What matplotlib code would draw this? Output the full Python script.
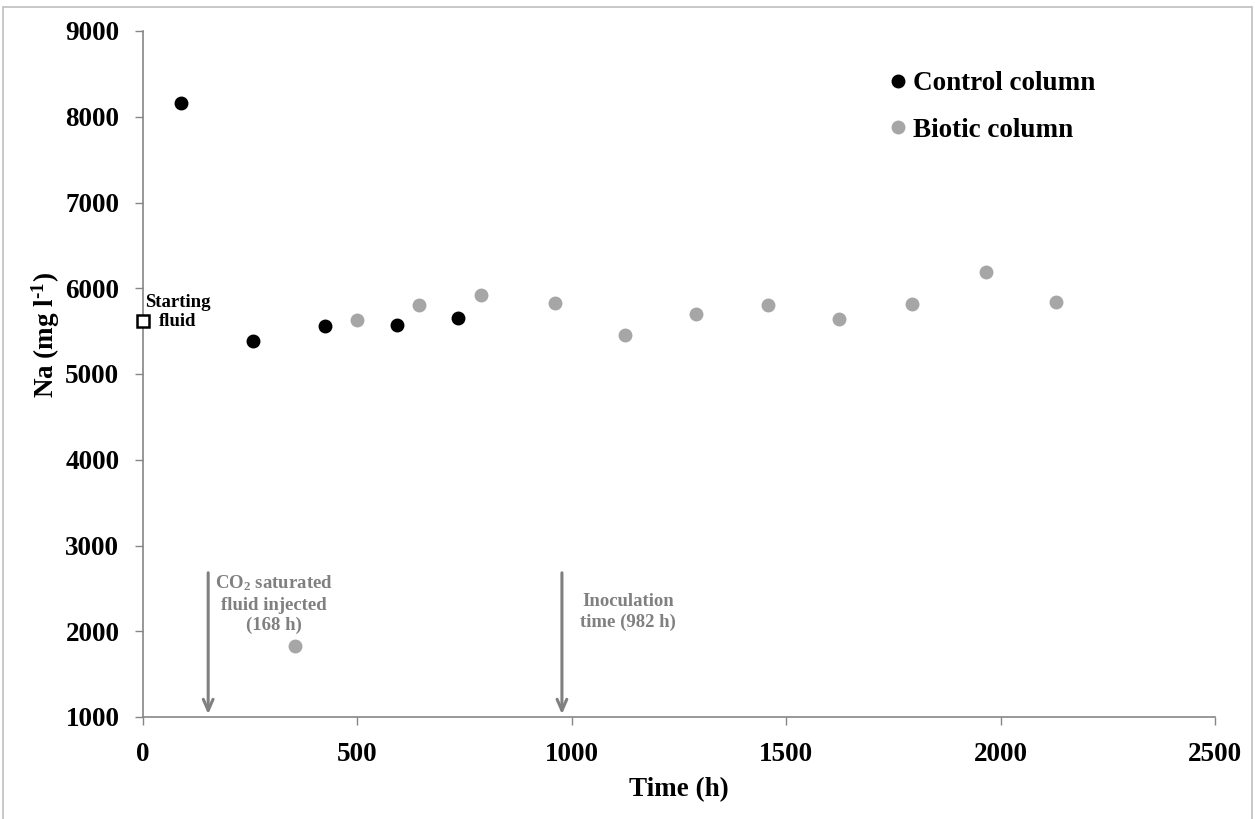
import matplotlib
matplotlib.use("Agg")
import matplotlib.pyplot as plt
from matplotlib.patches import Rectangle

plt.rcParams['font.family'] = ['Liberation Serif', 'DejaVu Serif']
plt.rcParams['font.weight'] = 'bold'
plt.rcParams['mathtext.fontset'] = 'custom'
plt.rcParams['mathtext.rm'] = 'Liberation Serif:bold'
plt.rcParams['mathtext.bf'] = 'Liberation Serif:bold'
plt.rcParams['mathtext.it'] = 'Liberation Serif:bold'

# Data
control_t = [88, 256, 424, 592, 735]
control_na = [8160, 5385, 5560, 5575, 5655]
biotic_t = [355, 499, 644, 788, 961, 1124, 1290, 1457, 1623, 1793, 1966, 2129]
biotic_na = [1830, 5630, 5805, 5920, 5828, 5455, 5700, 5805, 5641, 5816, 6195, 5840]
start_t = [0]
start_na = [5618]
events_t = [152, 977]
events_top = [2714, 2714]

GRAY_AX = '#868686'
GRAY_PT = '#A6A6A6'
GRAY_TXT = '#808080'

fig = plt.figure(figsize=(12.55, 8.19), dpi=100)
ax = fig.add_axes([143/1255, 1 - 717/819, (1215-143)/1255, (717-31)/819])

ax.plot(control_t, control_na, 'o', color='black', markersize=9, label='Control column', clip_on=False, zorder=3)
ax.plot(biotic_t, biotic_na, 'o', color=GRAY_PT, markersize=9, label='Biotic column', clip_on=False, zorder=3)
ax.plot(start_t, start_na, 's', markerfacecolor='white', markeredgecolor='black', markeredgewidth=1.8,
        markersize=8.5, clip_on=False, zorder=4)

for t, top in zip(events_t, events_top):
    ax.annotate('', xy=(t, 1000), xytext=(t, top),
                arrowprops=dict(arrowstyle='->,head_length=0.8,head_width=0.35', color=GRAY_TXT, lw=2.2),
                annotation_clip=False, zorder=2)

ax.text(305, 2318, 'CO$_2$ saturated\nfluid injected\n(168 h)', ha='center', va='center',
        fontsize=13.5, fontweight='bold', color=GRAY_TXT, linespacing=1.25)
ax.text(1131, 2224, 'Inoculation\ntime (982 h)', ha='center', va='center',
        fontsize=13.5, fontweight='bold', color=GRAY_TXT, linespacing=1.25)
ax.text(82, 5723, 'Starting\nfluid', ha='center', va='center',
        fontsize=13.5, fontweight='bold', color='black', linespacing=1.15)

ax.set_xlim(0, 2500)
ax.set_ylim(1000, 9000)
ax.set_xticks([0, 500, 1000, 1500, 2000, 2500])
ax.set_yticks([1000, 2000, 3000, 4000, 5000, 6000, 7000, 8000, 9000])
ax.tick_params(axis='both', direction='out', length=6, width=1, color=GRAY_AX, labelsize=19.5)
ax.tick_params(axis='y', pad=11)
ax.tick_params(axis='x', pad=12)
for lab in ax.get_xticklabels() + ax.get_yticklabels():
    lab.set_fontweight('bold')

for s in ['top', 'right']:
    ax.spines[s].set_visible(False)
for s in ['left', 'bottom']:
    ax.spines[s].set_color(GRAY_AX)
    ax.spines[s].set_linewidth(1.2)

ax.set_xlabel('Time (h)', fontsize=19.5, fontweight='bold', labelpad=7)
fig.text(46/1255, 1 - 335/819, 'Na (mg l$^{\u2010 1}$)', rotation=90, ha='center', va='center',
         fontsize=19.5, fontweight='bold')

leg = ax.legend(loc='upper left', bbox_to_anchor=((890-143)/1072, 1 - (71-31)/686), frameon=False,
                handlelength=0.6, handletextpad=0.25, labelspacing=0.8,
                borderaxespad=0, borderpad=0, prop={'weight': 'bold', 'size': 19.5})

fig.patches.append(Rectangle((3/1255, -0.1), (1252-3)/1255, 1.1 - 7/819, transform=fig.transFigure,
                             fill=False, edgecolor='#BFBFBF', linewidth=1.2))

fig.savefig('out.png', dpi=100)
